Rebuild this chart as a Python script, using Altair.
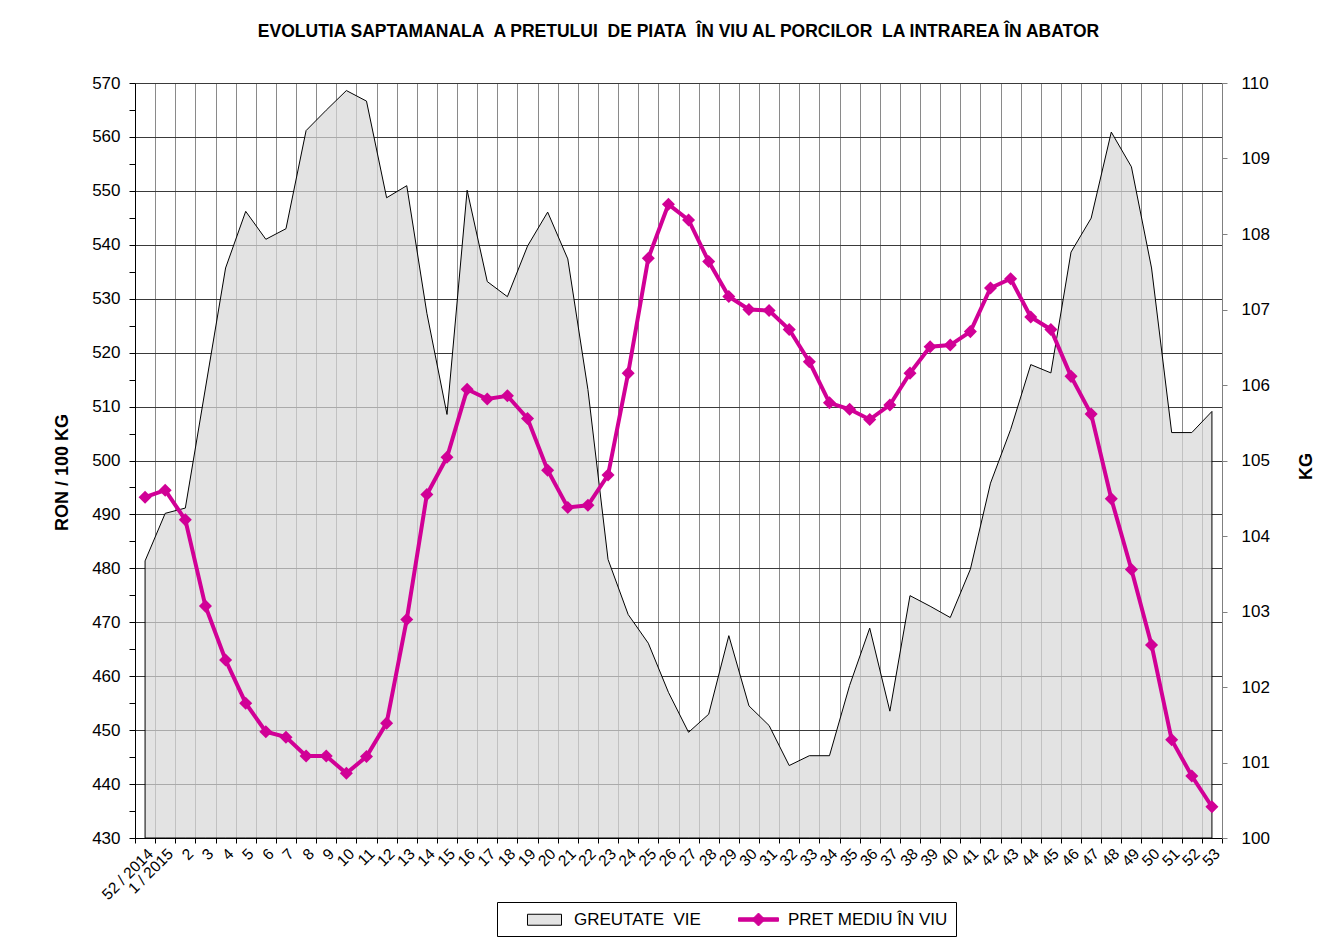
import json
import altair as alt
import pandas as pd

FONT = "Liberation Sans"
MAGENTA = "#d10096"

TITLE = ("EVOLUTIA SAPTAMANALA\u00a0 A PRETULUI\u00a0 DE PIATA\u00a0 ÎN VIU AL PORCILOR\u00a0 "
         "LA INTRAREA ÎN ABATOR")
WEIGHT_NAME = "GREUTATE\u00a0 VIE"
PRICE_NAME = "PRET MEDIU ÎN VIU"

WEEKS = ["52 / 2014", "1 / 2015", "2", "3", "4", "5", "6", "7", "8", "9", "10",
         "11", "12", "13", "14", "15", "16", "17", "18", "19", "20", "21", "22",
         "23", "24", "25", "26", "27", "28", "29", "30", "31", "32", "33", "34",
         "35", "36", "37", "38", "39", "40", "41", "42", "43", "44", "45", "46",
         "47", "48", "49", "50", "51", "52", "53"]

PRICE = [493.2, 494.5, 489.0, 473.0, 463.0, 455.0, 449.7, 448.7, 445.2, 445.2,
         442.0, 445.1, 451.3, 470.5, 493.7, 500.6, 513.2, 511.4, 512.0, 507.8,
         498.2, 491.3, 491.7, 497.3, 516.2, 537.5, 547.5, 544.6, 536.9, 530.4,
         528.0, 527.8, 524.3, 518.3, 510.7, 509.5, 507.6, 510.3, 516.2, 521.1,
         521.4, 523.9, 532.0, 533.7, 526.6, 524.3, 515.6, 508.6, 492.9, 479.8,
         465.8, 448.2, 441.5, 435.8]

WEIGHT = [103.67, 104.30, 104.37, 105.96, 107.55, 108.30, 107.93, 108.07, 109.37, 109.64,
          109.90, 109.76, 108.48, 108.64, 106.95, 105.61, 108.58, 107.37, 107.17, 107.84,
          108.29, 107.67, 105.94, 103.69, 102.96, 102.58, 101.93, 101.40, 101.64, 102.68,
          101.75, 101.49, 100.96, 101.09, 101.09, 102.02, 102.78, 101.68, 103.21, 103.07,
          102.92, 103.56, 104.70, 105.41, 106.27, 106.16, 107.76, 108.21, 109.35, 108.89,
          107.55, 105.37, 105.37, 105.65]

LEFT_TICKS = [430, 435, 440, 445, 450, 455, 460, 465, 470, 475, 480, 485, 490, 495,
              500, 505, 510, 515, 520, 525, 530, 535, 540, 545, 550, 555, 560, 565, 570]
RIGHT_TICKS = [100, 101, 102, 103, 104, 105, 106, 107, 108, 109, 110]

df = pd.DataFrame({
    "idx": list(range(len(WEEKS))),
    "label": WEEKS,
    "price": PRICE,
    "weight": WEIGHT,
})
legend_df = pd.DataFrame({"series": [WEIGHT_NAME, PRICE_NAME]})

n = len(WEEKS)
x_values = sorted([i - 0.5 for i in range(n + 1)] + list(range(n)))
label_expr = ("datum.value % 1 === 0 ? " + json.dumps(WEEKS, ensure_ascii=False)
              + "[datum.value] : ''")
half_test = "datum.value % 1 !== 0"

x_enc = alt.X(
    "idx:Q",
    scale=alt.Scale(domain=[-0.5, n - 0.5], nice=False, zero=False),
    axis=alt.Axis(
        values=x_values, labelExpr=label_expr, title=None,
        grid=True, gridColor="#8a8a8a", gridWidth=1,
        gridOpacity={"condition": {"test": half_test, "value": 1}, "value": 0},
        tickOpacity={"condition": {"test": half_test, "value": 1}, "value": 0},
        tickSize=5, tickColor="black", domainColor="black",
        labelAngle=-45, labelFontSize=15.5, labelFont=FONT, labelColor="black",
        labelOverlap=False, labelFlush=False, labelBound=False, labelPadding=3,
    ),
)

y_left = alt.Y(
    "price:Q",
    scale=alt.Scale(domain=[430, 570], nice=False, zero=False),
    axis=alt.Axis(
        orient="left", values=LEFT_TICKS,
        labelExpr="datum.value % 10 === 0 ? datum.label : ''",
        title="RON / 100 KG", titleFont=FONT, titleFontSize=18, titleFontWeight="bold",
        titleColor="black", titlePadding=20, titleY=389,
        grid=True, gridColor="#3a3a3a", gridWidth=1,
        gridOpacity={"condition": {"test": "datum.value % 10 === 0", "value": 1}, "value": 0},
        tickSize=6, tickColor="black", domainColor="black",
        labelFontSize=17, labelFont=FONT, labelColor="black", labelPadding=9,
    ),
)

y_right = alt.Y(
    "weight:Q",
    scale=alt.Scale(domain=[100, 110], nice=False, zero=False),
    axis=alt.Axis(
        orient="right", values=RIGHT_TICKS, grid=False,
        title="KG", titleFont=FONT, titleFontSize=18, titleFontWeight="bold",
        titleColor="black", titleAngle=-90, titleBaseline="top", titlePadding=28,
        titleY=383,
        tickSize=5, tickColor="#808080", domainColor="#808080",
        labelFontSize=17, labelFont=FONT, labelColor="black", labelPadding=14,
    ),
)

area = alt.Chart(df).mark_area(
    fill="#d8d8d8", fillOpacity=0.715, stroke="black", strokeWidth=1
).encode(x=x_enc, y=y_right, y2=alt.datum(100))

line = alt.Chart(df).mark_line(color=MAGENTA, strokeWidth=4).encode(x=x_enc, y=y_left)

points = alt.Chart(df).mark_point(
    shape="diamond", filled=True, size=170, color=MAGENTA, opacity=1
).encode(x=x_enc, y=y_left)

RECT_PATH = "M-1.89,-0.61H1.89V0.61H-1.89Z"
LINE_PATH = "M-2.22,-0.19H2.22V0.19H-2.22Z M0,-0.72L0.72,0L0,0.72L-0.72,0Z"

legend = alt.Legend(
    title=None, orient="none", legendX=362, legendY=819, direction="horizontal",
    symbolSize=324, symbolOffset=30, symbolStrokeWidth=1, symbolOpacity=1,
    labelOffset=20, columnPadding=18, padding=8,
    strokeColor="black", fillColor="white",
    labelFont=FONT, labelFontSize=17, labelColor="black", labelLimit=400,
)
names = [WEIGHT_NAME, PRICE_NAME]
legend_layer = alt.Chart(legend_df).transform_filter("false").mark_point(
    filled=True, opacity=1
).encode(
    shape=alt.Shape("series:N", scale=alt.Scale(domain=names, range=[RECT_PATH, LINE_PATH]), legend=legend),
    fill=alt.Fill("series:N", scale=alt.Scale(domain=names, range=["#e3e3e3", MAGENTA]), legend=legend),
    stroke=alt.Stroke("series:N", scale=alt.Scale(domain=names, range=["black", MAGENTA]), legend=legend),
)

price_layer = alt.layer(line, points, legend_layer)

chart = alt.layer(area, price_layer).resolve_scale(y="independent").properties(
    width=1087, height=755,
    title=alt.Title(TITLE, font=FONT, fontSize=17.5, fontWeight="bold", color="black", offset=34),
    autosize=alt.AutoSizeParams(type="none"),
    padding={"left": 127, "top": 75, "right": 107, "bottom": 100},
).configure_view(stroke=None)

chart.save("out.html", embed_options={"renderer": "svg", "actions": False})
